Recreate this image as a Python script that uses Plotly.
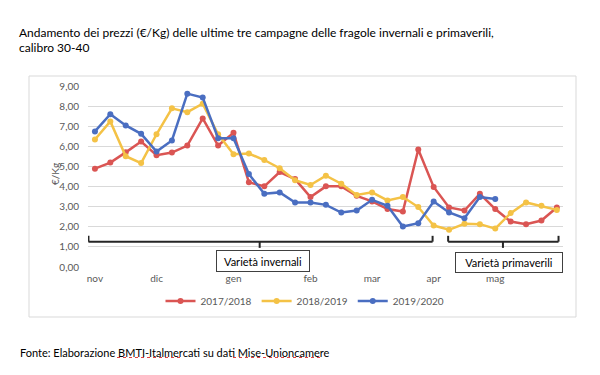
import plotly.graph_objects as go

# ---- data ----
months = ["nov", "dic", "gen", "feb", "mar", "apr", "mag"]
month_pos = [0, 4, 9, 14, 18, 22, 26]

s1718 = [4.89, 5.19, 5.70, 6.24, 5.56, 5.69, 6.04, 7.39, 6.04, 6.67, 4.21, 4.01, 4.72, 4.37, 3.48,
         4.01, 4.01, 3.54, 3.26, 2.88, 2.76, 5.84, 3.98, 2.96, 2.81, 3.64, 2.88, 2.26, 2.13, 2.31, 2.96]
s1819 = [6.34, 7.24, 5.51, 5.17, 6.60, 7.89, 7.70, 8.12, 6.60, 5.61, 5.64, 5.32, 4.91, 4.31, 4.08,
         4.54, 4.14, 3.58, 3.71, 3.31, 3.48, 2.98, 2.06, 1.85, 2.15, 2.13, 1.91, 2.68, 3.21, 3.04, 2.84]
s1920 = [6.74, 7.60, 7.04, 6.62, 5.74, 6.29, 8.62, 8.43, 6.40, 6.40, 4.62, 3.64, 3.71, 3.21, 3.21,
         3.09, 2.71, 2.81, 3.34, 3.04, 2.01, 2.18, 3.26, 2.71, 2.43, 3.48, 3.38]

series = [("2017/2018", s1718, "#DA5553"),
          ("2018/2019", s1819, "#F4C246"),
          ("2019/2020", s1920, "#4A6EC1")]

title_lines = ["Andamento dei prezzi (€/Kg) delle ultime tre campagne delle fragole invernali e primaverili,",
               "calibro 30-40"]
source_text = "Fonte: Elaborazione BMTI-Italmercati su dati Mise-Unioncamere"

FONT = "Lato"
W, H = 592, 367  # page has an 8px body margin

def px(xp):  # page x -> paper x
    return (xp - 88) / 475
def py(yp):  # page y -> paper y
    return (267 - yp) / 181

fig = go.Figure()
for name, vals, col in series:
    fig.add_trace(go.Scatter(
        x=list(range(len(vals))), y=vals, name=name, mode="lines+markers",
        line=dict(color=col, width=2.5), marker=dict(color=col, size=6)))

# brackets (data coords)
BR = "#262626"
def bracket(x0, x1, xm):
    yb, yt, yd = 1.26, 1.55, 0.95
    return [
        dict(type="line", xref="x", yref="y", x0=x0, x1=x1, y0=yb, y1=yb, line=dict(color=BR, width=2)),
        dict(type="line", xref="x", yref="y", x0=x0, x1=x0, y0=yb, y1=yt, line=dict(color=BR, width=2)),
        dict(type="line", xref="x", yref="y", x0=x1, x1=x1, y0=yb, y1=yt, line=dict(color=BR, width=2)),
        dict(type="line", xref="x", yref="y", x0=xm, x1=xm, y0=yb, y1=yd, line=dict(color=BR, width=2)),
    ]

shapes = bracket(-0.42, 21.93, 10.7) + bracket(22.94, 30.11, 26.5)
# outer chart border
shapes.append(dict(type="rect", xref="paper", yref="paper", x0=px(29), x1=px(576), y0=py(317), y1=py(76),
                   line=dict(color="#D9D9D9", width=1), layer="below"))
# spell-check squiggles under footer words
for a, b in [(117, 183), (233, 322)]:
    shapes.append(dict(type="line", xref="paper", yref="paper",
                       x0=px(a), x1=px(b), y0=py(357.5), y1=py(357.5),
                       line=dict(color="#E04040", width=1, dash="dot")))

annotations = [
    dict(x=10.93, y=0.30, xref="x", yref="y", text="Varietà invernali", showarrow=False,
         font=dict(family=FONT, size=11, color="black"), bgcolor="white",
         bordercolor="#404040", borderwidth=1, width=90, height=18),
    dict(x=26.9, y=0.20, xref="x", yref="y", text="Varietà primaverili", showarrow=False,
         font=dict(family=FONT, size=11, color="black"), bgcolor="white",
         bordercolor="#404040", borderwidth=1, width=104, height=17),
    dict(x=px(18), y=py(352), xref="paper", yref="paper", xanchor="left", yanchor="middle",
         text=source_text, showarrow=False, font=dict(family=FONT, size=11, color="black")),
    dict(x=px(17), y=py(33), xref="paper", yref="paper", xanchor="left", yanchor="middle",
         text=title_lines[0], showarrow=False, font=dict(family=FONT, size=12, color="black")),
    dict(x=px(17), y=py(47.5), xref="paper", yref="paper", xanchor="left", yanchor="middle",
         text=title_lines[1], showarrow=False, font=dict(family=FONT, size=12, color="black")),
    dict(x=px(55), y=py(174), xref="paper", yref="paper", xanchor="center", yanchor="middle",
         text="€/Kg", textangle=-90, showarrow=False, font=dict(family=FONT, size=10, color="#595959")),
]

fig.update_layout(
    width=W, height=H,
    margin=dict(l=80, r=37, t=78, b=108),
    paper_bgcolor="white", plot_bgcolor="white",
    separators=",.",
    xaxis=dict(range=[-0.45, 30.4], tickmode="array", tickvals=month_pos, ticktext=months,
               showgrid=False, zeroline=False, showline=False, ticks="", ticklabelstandoff=4,
               tickfont=dict(family=FONT, size=10, color="#595959")),
    yaxis=dict(range=[0, 9], tickvals=[0, 1, 2, 3, 4, 5, 6, 7, 8, 9], tickformat=".2f",
               showgrid=True, gridcolor="#D9D9D9", gridwidth=1, zeroline=False, showline=False,
               ticks="", ticklabelstandoff=8,
               tickfont=dict(family=FONT, size=10, color="#595959")),
    legend=dict(orientation="h", x=px(305), y=py(301), xanchor="center", yanchor="middle",
                font=dict(family=FONT, size=10, color="#595959"), itemwidth=30),
    shapes=shapes, annotations=annotations,
)

fig.write_html("out.html")
